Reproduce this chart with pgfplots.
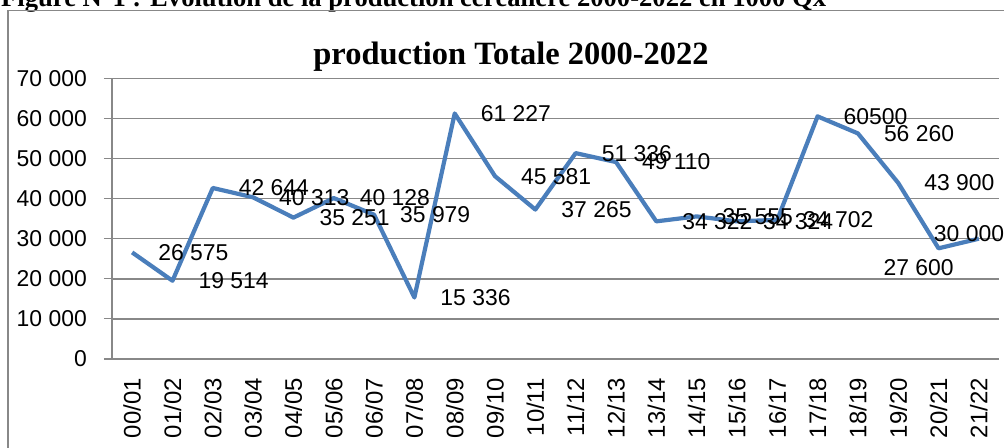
\documentclass[border=0pt]{standalone}
\usepackage{fontspec}
\setmainfont{Liberation Sans}
\newfontfamily\serifbf{Liberation Serif}
\usepackage{pgfplots}
\usepackage{pgfplotstable}
\pgfplotsset{compat=1.18}
\definecolor{lineblue}{HTML}{4A7EBB}
\definecolor{gridgray}{HTML}{888888}

\pgfplotstableread[col sep=comma,row sep=\\]{
x,y,lab,dx,dy\\
0,26575,26 575,24,0\\
1,19514,19 514,24,0\\
2,42644,42 644,24,0\\
3,40313,40 313,24,0\\
4,35251,35 251,24,0\\
5,40128,40 128,24,0\\
6,35979,35 979,24,0\\
7,15336,15 336,24,0\\
8,61227,61 227,24,0\\
9,45581,45 581,24,0\\
10,37265,37 265,24,0\\
11,51336,51 336,24,0\\
12,49110,49 110,24,0\\
13,34322,34 322,24,0\\
14,35555,35 555,24,0\\
15,34324,34 324,24,0\\
16,34702,34 702,24,0\\
17,60500,60500,24,0\\
18,56260,56 260,24,0\\
19,43900,43 900,24,0\\
20,27600,27 600,-57,-19\\
21,30000,30 000,-47,5\\
}\data

\begin{document}
\begin{tikzpicture}[x=1bp,y=1bp]
\path[use as bounding box] (0,0) rectangle (1004,448);
% header line (clipped at top)
\node[anchor=base west,inner sep=0pt,font=\serifbf\bfseries\fontsize{26.7}{30}\selectfont] at (1,441) {Figure N°1 : Evolution de la production céréalière 2000-2022 en 1000 Qx};
% chart frame
\draw[gridgray,line width=1.5bp] (1020,437.3) -- (8,437.3) -- (8,-20);
% title
\node[anchor=base,inner sep=0pt,font=\serifbf\bfseries\fontsize{32.6}{36}\selectfont] at (511,383) {production Totale 2000-2022};
\begin{axis}[
  at={(112bp,89bp)}, anchor=south west,
  scale only axis, width=887bp, height=280.7bp,
  xmin=-0.5, xmax=21.5, ymin=0, ymax=70000,
  scaled y ticks=false,
  axis lines=left, axis line style={-, gridgray, line width=1.5bp},
  ymajorgrids, grid style={gridgray, line width=1.5bp},
  ytick={0,10000,...,70000},
  yticklabels={0,10 000,20 000,30 000,40 000,50 000,60 000,70 000},
  xtick={0,...,21},
  xticklabels={00/01,01/02,02/03,03/04,04/05,05/06,06/07,07/08,08/09,09/10,10/11,11/12,12/13,13/14,14/15,15/16,16/17,17/18,18/19,19/20,20/21,21/22},
  major x tick style={draw=none},
  extra x ticks={-0.5,0.5,...,21.5},
  extra x tick labels={},
  extra x tick style={major tick length=7bp, tick style={gridgray, line width=1.2bp}, grid=none},
  tick align=outside,
  major tick length=8bp,
  tick style={gridgray, line width=1.2bp},
  ticklabel style={font=\fontsize{23}{26}\selectfont, text=black},
  yticklabel style={anchor=east, inner sep=0pt, xshift=-17bp},
  xticklabel style={yshift=-11bp, rotate=90, anchor=east, inner sep=0pt, font=\fontsize{24}{26}\selectfont},
  clip=false,
]
\addplot[lineblue, line width=4.2bp, line join=round,
  nodes near coords, point meta=explicit symbolic,
  visualization depends on={\thisrow{dx} \as \dx},
  visualization depends on={\thisrow{dy} \as \dy},
  every node near coord/.append style={anchor=west, inner sep=0pt, text=black,
    font=\fontsize{23}{26}\selectfont, xshift=\dx bp, yshift=\dy bp}]
  table[x=x, y=y, meta=lab] {\data};
\end{axis}
\end{tikzpicture}
\end{document}
